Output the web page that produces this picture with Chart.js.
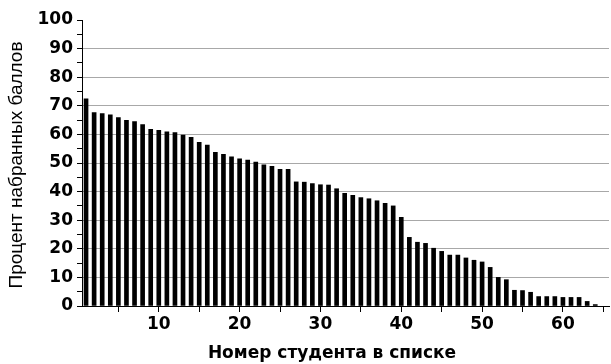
<!DOCTYPE html>
<html lang="ru">
<head>
  <meta charset="UTF-8">
  <title>Процент набранных баллов</title>
  <script src="https://cdn.jsdelivr.net/npm/chart.js"></script>
  <style>
    body {
      margin: 0;
      background-color: #fff;
    }
    #wrap {
      width: 611px;
      height: 364px;
    }
  </style>
</head>
<body>
  <div id="wrap"><canvas id="scoreChart" width="611" height="364"></canvas></div>

  <script>
    // номера студентов в списке
    const students = [
      1, 2, 3, 4, 5, 6, 7, 8, 9, 10, 11, 12, 13, 14, 15, 16,
      17, 18, 19, 20, 21, 22, 23, 24, 25, 26, 27, 28, 29, 30, 31, 32,
      33, 34, 35, 36, 37, 38, 39, 40, 41, 42, 43, 44, 45, 46, 47, 48,
      49, 50, 51, 52, 53, 54, 55, 56, 57, 58, 59, 60, 61, 62, 63, 64
    ];
    // процент набранных баллов
    const scores = [
      72.4, 67.6, 67.3, 66.8, 65.9, 64.9, 64.5, 63.4, 61.8, 61.4, 60.9, 60.6, 59.8, 59.0, 57.2, 56.3,
      53.7, 53.0, 52.2, 51.5, 51.0, 50.3, 49.4, 48.8, 47.8, 47.8, 43.4, 43.3, 42.8, 42.4, 42.3, 41.0,
      39.4, 38.7, 37.9, 37.5, 36.8, 35.9, 35.0, 31.0, 24.0, 22.3, 21.9, 20.2, 19.1, 17.8, 17.8, 16.8,
      16.0, 15.4, 13.5, 10.0, 9.2, 5.5, 5.4, 4.8, 3.3, 3.3, 3.3, 3.0, 3.0, 3.0, 1.6, 0.5
    ];
    const xTicks = [5, 10, 15, 20, 25, 30, 35, 40, 45, 50, 55, 60, 65];
    const xLabels = [10, 20, 30, 40, 50, 60];
    const yTicks = [0, 5, 10, 15, 20, 25, 30, 35, 40, 45, 50, 55, 60, 65, 70, 75, 80, 85, 90, 95, 100];
    const yLabels = [0, 10, 20, 30, 40, 50, 60, 70, 80, 90, 100];
    const xTitle = 'Номер студента в списке';
    const yTitle = 'Процент набранных баллов';

    const tickFont = "'DejaVu Sans', sans-serif";
    const titleFont = "'Liberation Sans', Arial, sans-serif";

    const points = students.map((s, i) => ({ x: s, y: scores[i] }));

    // axis titles drawn by hand so they sit where the original has them
    const axisTitles = {
      id: 'axisTitles',
      afterDraw(chart) {
        const ctx = chart.ctx;
        ctx.save();
        ctx.fillStyle = '#000';
        ctx.textAlign = 'center';
        ctx.textBaseline = 'middle';
        ctx.font = 'bold 17px ' + tickFont;
        ctx.fillText(xTitle, 332, 354);
        ctx.translate(17, 165);
        ctx.rotate(-Math.PI / 2);
        ctx.font = '19px ' + titleFont;
        ctx.fillText(yTitle, 0, 0);
        ctx.restore();
      }
    };

    new Chart(document.getElementById('scoreChart'), {
      type: 'bar',
      data: {
        datasets: [{
          data: points,
          backgroundColor: '#000',
          barThickness: 4
        }]
      },
      options: {
        responsive: false,
        animation: false,
        layout: { padding: { top: 20, right: 2, left: 0, bottom: 0 } },
        plugins: {
          legend: { display: false },
          tooltip: { enabled: false }
        },
        scales: {
          x: {
            type: 'linear',
            offset: false,
            min: 0.5,
            max: 65.7,
            afterBuildTicks: s => { s.ticks = xTicks.map(v => ({ value: v })); },
            afterFit: s => { s.height = 58; },
            ticks: {
              autoSkip: false,
              maxRotation: 0,
              color: '#000',
              padding: 2,
              font: { family: tickFont, size: 17, weight: 'bold' },
              callback: v => xLabels.includes(v) ? String(v) : ''
            },
            grid: {
              offset: false,
              drawOnChartArea: false,
              tickLength: 6,
              tickColor: '#000'
            },
            border: { color: '#000', width: 1 }
          },
          y: {
            min: 0,
            max: 100,
            afterBuildTicks: s => { s.ticks = yTicks.map(v => ({ value: v })); },
            afterFit: s => { s.width = 82; },
            ticks: {
              autoSkip: false,
              color: '#000',
              padding: 4,
              font: { family: tickFont, size: 17, weight: 'bold' },
              callback: v => yLabels.includes(v) ? String(v) : ''
            },
            grid: {
              tickLength: 5,
              tickColor: '#000',
              color: ctx => {
                const v = ctx.tick && ctx.tick.value;
                return (v % 10 === 0 && v > 0 && v < 100) ? '#a8a8a8' : 'rgba(0,0,0,0)';
              }
            },
            border: { color: '#000', width: 1 }
          }
        }
      },
      plugins: [axisTitles]
    });
  </script>
</body>
</html>
